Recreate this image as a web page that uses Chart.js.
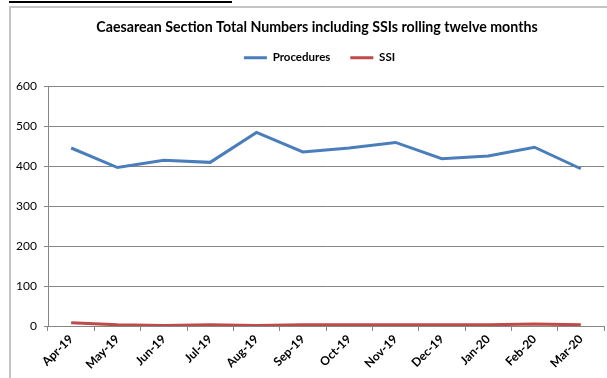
<!DOCTYPE html>
<html>
<head>
<meta charset="utf-8">
<title>Caesarean Section Total Numbers including SSIs</title>
<script src="https://cdn.jsdelivr.net/npm/chart.js@4/dist/chart.umd.min.js"></script>
<style>
    html, body { margin: 0; padding: 0; background: #fff; }
    #wrap { position: relative; width: 607px; height: 378px; overflow: hidden; }
    #chart { position: absolute; left: 0; top: 0; }
    .rule { position: absolute; z-index: 2; }
    .rule-black { left: 9px; top: 1px; width: 223px; height: 2px; background: #000; }
    .rule-top { left: 9px; top: 6px; width: 620px; height: 2px; background: #c4c4c4; }
    .rule-left { left: 9px; top: 6px; width: 2px; height: 400px; background: #c4c4c4; }
</style>
</head>
<body>
<div id="wrap">
    <div class="rule rule-black"></div>
    <div class="rule rule-top"></div>
    <div class="rule rule-left"></div>
    <canvas id="chart" width="607" height="378"></canvas>
</div>
<script>
    // Data
    const months = ['Apr-19', 'May-19', 'Jun-19', 'Jul-19', 'Aug-19', 'Sep-19',
                    'Oct-19', 'Nov-19', 'Dec-19', 'Jan-20', 'Feb-20', 'Mar-20'];
    const procedures = [446, 397, 415, 410, 485, 436, 446, 460, 419, 426, 448, 394];
    const ssi = [8, 3, 1, 3, 1, 3, 3, 3, 3, 3, 5, 3];
    const yTicks = [0, 100, 200, 300, 400, 500, 600];

    const FONT = 'Lato, "Open Sans", sans-serif';
    const GRID = '#868686';

    // The original chart box runs past the right edge, so title and legend
    // sit a little right of the visible centre; legend also needs a gap below
    const layoutTweaks = {
        id: 'layoutTweaks',
        beforeInit: function(chart) {
            const fit = chart.legend.fit;
            chart.legend.fit = function() {
                fit.bind(chart.legend)();
                this.height += 5;
            };
        },
        afterLayout: function(chart) {
            chart.titleBlock.left += 19;
            chart.legend.left += 24;
            chart.legend.top -= 8;
        }
    };

    new Chart(document.getElementById('chart'), {
        type: 'line',
        data: {
            labels: months,
            datasets: [
                {
                    label: 'Procedures',
                    data: procedures,
                    borderColor: '#4a7ebb',
                    backgroundColor: '#4a7ebb',
                    borderWidth: 3,
                    pointRadius: 0,
                    tension: 0
                },
                {
                    label: 'SSI',
                    data: ssi,
                    borderColor: '#be4b48',
                    backgroundColor: '#be4b48',
                    borderWidth: 3,
                    pointRadius: 0,
                    tension: 0
                }
            ]
        },
        plugins: [layoutTweaks],
        options: {
            responsive: false,
            animation: false,
            layout: {
                padding: { left: 11, right: 3, top: 0, bottom: 0 }
            },
            plugins: {
                title: {
                    display: true,
                    text: 'Caesarean Section Total Numbers including SSIs rolling twelve months',
                    color: '#000',
                    font: { family: FONT, size: 14.2, weight: 'bold' },
                    padding: { top: 19, bottom: 4 }
                },
                legend: {
                    position: 'top',
                    labels: {
                        color: '#000',
                        font: { family: FONT, size: 11.5, weight: 'bold' },
                        usePointStyle: true,
                        pointStyle: 'line',
                        pointStyleWidth: 23,
                        boxHeight: 3,
                        padding: 20
                    }
                },
                tooltip: { enabled: false }
            },
            scales: {
                x: {
                    offset: true,
                    grid: {
                        offset: true,
                        drawOnChartArea: false,
                        color: GRID,
                        tickLength: 5
                    },
                    border: { color: GRID },
                    ticks: {
                        color: '#000',
                        font: { family: FONT, size: 12, weight: 'bold' },
                        minRotation: 45,
                        maxRotation: 45,
                        padding: 1
                    },
                    afterFit: function(scale) {
                        scale.height = 52;
                    }
                },
                y: {
                    min: 0,
                    max: 600,
                    afterBuildTicks: function(scale) {
                        scale.ticks = yTicks.map(v => ({ value: v }));
                    },
                    grid: {
                        color: GRID,
                        tickLength: 4
                    },
                    border: { color: GRID },
                    ticks: {
                        color: '#000',
                        font: { family: FONT, size: 12 },
                        padding: 7
                    },
                    afterFit: function(scale) {
                        scale.width = 37;
                    }
                }
            }
        }
    });
</script>
</body>
</html>
